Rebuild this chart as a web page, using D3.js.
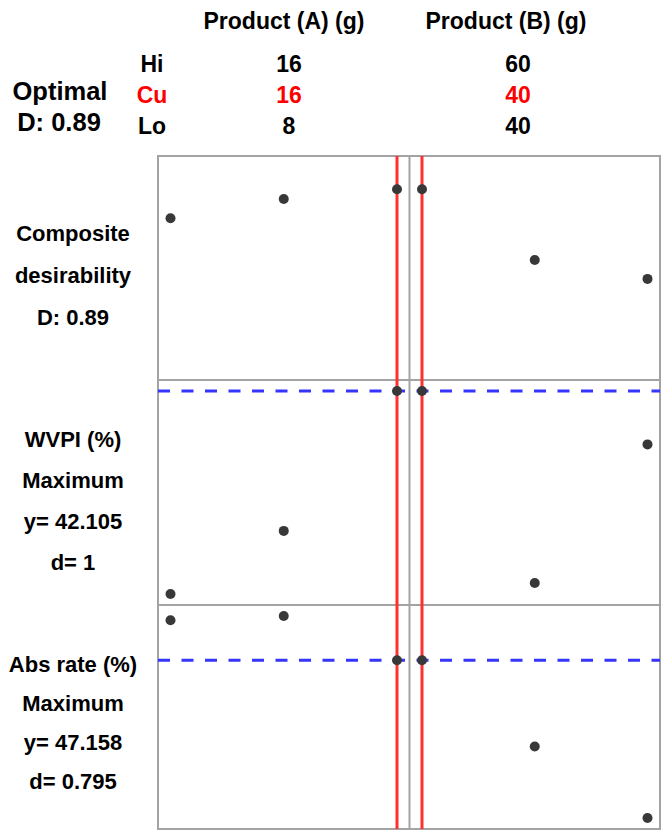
<!DOCTYPE html>
<html>
<head>
<meta charset="utf-8">
<script src="https://cdn.jsdelivr.net/npm/d3@7"></script>
<style>
  html, body { margin: 0; padding: 0; background: #fff; }
  svg text { font-family: "Liberation Sans", Arial, sans-serif; font-weight: bold; }
</style>
</head>
<body>
<div id="chart"></div>
<script>
// Factor settings shown in the header
const factorNames = ["Product (A) (g)", "Product (B) (g)"];
const levelNames = ["Hi", "Cu", "Lo"];
const hiValues = [16, 60];
const curValues = [16, 40];
const loValues = [8, 40];

// x levels evaluated for each factor
const levelsA = [8, 12, 16];
const levelsB = [40, 50, 60];

// Response rows: label lines
const rowLabels = [
  ["Composite", "desirability", "D: 0.89"],
  ["WVPI (%)", "Maximum", "y= 42.105", "d= 1"],
  ["Abs rate (%)", "Maximum", "y= 47.158", "d= 0.795"]
];

// Response values at each level
const desirabilityA = [0.746, 0.842, 0.89];
const desirabilityB = [0.89, 0.54, 0.446];
const wvpiA = [28.4, 32.66, 42.105];
const wvpiB = [42.105, 29.14, 38.5];
const absRateA = [51.08, 51.5, 47.158];
const absRateB = [47.158, 38.7, 31.7];

// Current predicted response (blue dashed line), none for the composite row
const currentY = [null, 42.105, 47.158];

const width = 665, height = 832;
const box = { left: 158, right: 660, top: 156, bottom: 829 };
const colSplit = 409.5;
const rowSplits = [box.top, 380, 605, box.bottom];
const pad = 12.5, padY = 11;

const svg = d3.select("#chart").append("svg")
  .attr("width", width).attr("height", height);

svg.append("rect").attr("width", width).attr("height", height).attr("fill", "#fff");

// x scales per factor column
const xScales = [
  d3.scaleLinear().domain(d3.extent(levelsA)).range([box.left + pad, colSplit - pad]),
  d3.scaleLinear().domain(d3.extent(levelsB)).range([colSplit + pad, box.right - pad])
];
const levels = [levelsA, levelsB];

// y scales per response row
const rowData = [
  [desirabilityA, desirabilityB],
  [wvpiA, wvpiB],
  [absRateA, absRateB]
];
const yScales = rowData.map((series, i) => {
  const domain = i === 0 ? [0, 1] : d3.extent(series.flat());
  return d3.scaleLinear().domain(domain)
    .range([rowSplits[i + 1] - padY, rowSplits[i] + padY]);
});

// Header text
const header = svg.append("g");
const headerX = [284, 506];
const valueX = [289, 518];
header.selectAll(".factor").data(factorNames).join("text")
  .attr("x", (d, i) => headerX[i]).attr("y", 29)
  .attr("text-anchor", "middle").attr("font-size", 23)
  .text(d => d);

const levelRows = [hiValues, curValues, loValues];
const levelY = [72, 103, 134];
levelNames.forEach((name, r) => {
  const color = r === 1 ? "#ff0000" : "#000";
  header.append("text")
    .attr("x", 152).attr("y", levelY[r])
    .attr("text-anchor", "middle").attr("font-size", 23)
    .attr("fill", color).text(name);
  header.selectAll(null).data(levelRows[r]).join("text")
    .attr("x", (d, i) => valueX[i]).attr("y", levelY[r])
    .attr("text-anchor", "middle").attr("font-size", 23)
    .attr("fill", color).text(d => d);
});

header.append("text").attr("x", 60).attr("y", 100)
  .attr("text-anchor", "middle").attr("font-size", 25.5).text("Optimal");
header.append("text").attr("x", 59).attr("y", 131)
  .attr("text-anchor", "middle").attr("font-size", 25.5).text("D: 0.89");

// Row labels on the left
const labelBaselines = [[241, 283, 325], [447, 488, 529, 570], [672, 711, 750, 789]];
rowLabels.forEach((lines, i) => {
  svg.append("g").selectAll("text").data(lines).join("text")
    .attr("x", 73).attr("y", (d, j) => labelBaselines[i][j])
    .attr("text-anchor", "middle").attr("font-size", 22)
    .text(d => d);
});

// Grey panel grid
const grid = svg.append("g").attr("stroke", "#a3a3a3").attr("stroke-width", 2).attr("fill", "none");
grid.append("rect")
  .attr("x", box.left).attr("y", box.top)
  .attr("width", box.right - box.left).attr("height", box.bottom - box.top);
grid.append("line").attr("x1", colSplit).attr("x2", colSplit).attr("y1", box.top).attr("y2", box.bottom);
rowSplits.slice(1, -1).forEach(y => {
  grid.append("line").attr("x1", box.left).attr("x2", box.right).attr("y1", y).attr("y2", y);
});

// Red lines at current factor settings
svg.append("g").selectAll("line").data(curValues).join("line")
  .attr("x1", (d, i) => xScales[i](d)).attr("x2", (d, i) => xScales[i](d))
  .attr("y1", box.top).attr("y2", box.bottom)
  .attr("stroke", "#ff3030").attr("stroke-width", 3);

// Blue dashed lines at current responses
currentY.forEach((v, i) => {
  if (v === null) return;
  svg.append("line")
    .attr("x1", box.left).attr("x2", box.right)
    .attr("y1", yScales[i](v)).attr("y2", yScales[i](v))
    .attr("stroke", "#3535ff").attr("stroke-width", 3)
    .attr("stroke-dasharray", "12,11.5");
});

// Points
rowData.forEach((series, i) => {
  series.forEach((vals, c) => {
    svg.append("g").selectAll("circle").data(vals).join("circle")
      .attr("cx", (d, k) => xScales[c](levels[c][k]))
      .attr("cy", d => yScales[i](d))
      .attr("r", 5)
      .attr("fill", "#383838");
  });
});
</script>
</body>
</html>
